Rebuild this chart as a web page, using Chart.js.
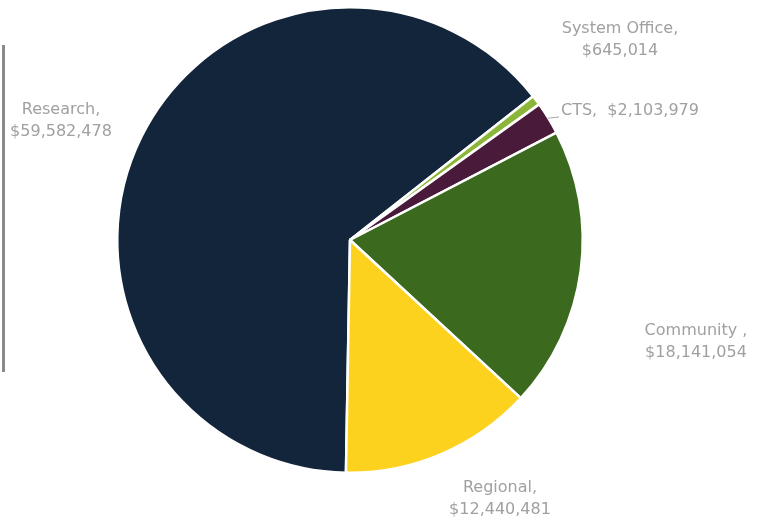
<!DOCTYPE html>
<html lang="en">
<head>
    <meta charset="UTF-8">
    <title>Budget by Division</title>
    <script src="https://cdn.jsdelivr.net/npm/chart.js"></script>
    <style>
        html, body {
            margin: 0;
            padding: 0;
            background: #ffffff;
            overflow: hidden;
        }
        .frame {
            position: relative;
            width: 760px;
            height: 518px;
        }
        /* thin grey rule down the left edge */
        .rule {
            position: absolute;
            left: 2px;
            top: 45px;
            height: 327px;
            border-left: 3px solid #8a8a8a;
        }
        canvas {
            position: absolute;
            left: 0;
            top: 0;
        }
    </style>
</head>
<body>
    <div class="frame">
        <div class="rule"></div>
        <canvas id="budgetChart" width="760" height="518"></canvas>
    </div>

    <script>
        // Budget split by division
        const divisions = ["Research", "System Office", "CTS", "Community", "Regional"];
        const amounts = [59582478, 645014, 2103979, 18141054, 12440481];
        const sliceColors = ["#12253b", "#8bb63a", "#4a1a3b", "#3b6a1f", "#fdd21e"];

        // where each label sits and whether it wraps onto two lines
        const labelSpots = [
            { x: 61, y: 110, twoLines: true },
            { x: 620, y: 29, twoLines: true },
            { x: 561, y: 111, twoLines: false, leader: true },
            { x: 696, y: 331, twoLines: true, comma: " ," },
            { x: 500, y: 488, twoLines: true }
        ];

        function money(v) {
            return "$" + v.toLocaleString("en-US");
        }

        const labelPlugin = {
            id: "sliceLabels",
            afterDatasetsDraw(chart) {
                const ctx = chart.ctx;
                const arcs = chart.getDatasetMeta(0).data;
                ctx.save();
                ctx.fillStyle = "#a0a0a0";
                ctx.font = "16px 'DejaVu Sans', sans-serif";
                ctx.textBaseline = "middle";
                divisions.forEach((name, i) => {
                    const spot = labelSpots[i];
                    const sep = spot.comma || ",";
                    if (spot.twoLines) {
                        ctx.textAlign = "center";
                        ctx.fillText(name + sep, spot.x, spot.y);
                        ctx.fillText(money(amounts[i]), spot.x, spot.y + 22);
                    } else {
                        ctx.textAlign = "left";
                        ctx.fillText(name + ",  " + money(amounts[i]), spot.x, spot.y);
                    }
                    if (spot.leader) {
                        const arc = arcs[i];
                        const mid = (arc.startAngle + arc.endAngle) / 2;
                        const ex = arc.x + Math.cos(mid) * arc.outerRadius;
                        const ey = arc.y + Math.sin(mid) * arc.outerRadius;
                        ctx.strokeStyle = "#a8a8a8";
                        ctx.lineWidth = 1;
                        ctx.beginPath();
                        ctx.moveTo(ex, ey);
                        ctx.lineTo(spot.x - 2, spot.y + 6);
                        ctx.stroke();
                    }
                });
                ctx.restore();
            }
        };

        new Chart(document.getElementById("budgetChart"), {
            type: "pie",
            data: {
                labels: divisions,
                datasets: [{
                    data: amounts,
                    backgroundColor: sliceColors,
                    borderColor: "#ffffff",
                    borderWidth: 2.5
                }]
            },
            options: {
                responsive: false,
                animation: false,
                rotation: 181,
                layout: {
                    padding: { left: 116, right: 176, top: 6, bottom: 44 }
                },
                plugins: {
                    legend: { display: false },
                    tooltip: { enabled: false }
                }
            },
            plugins: [labelPlugin]
        });
    </script>
</body>
</html>
